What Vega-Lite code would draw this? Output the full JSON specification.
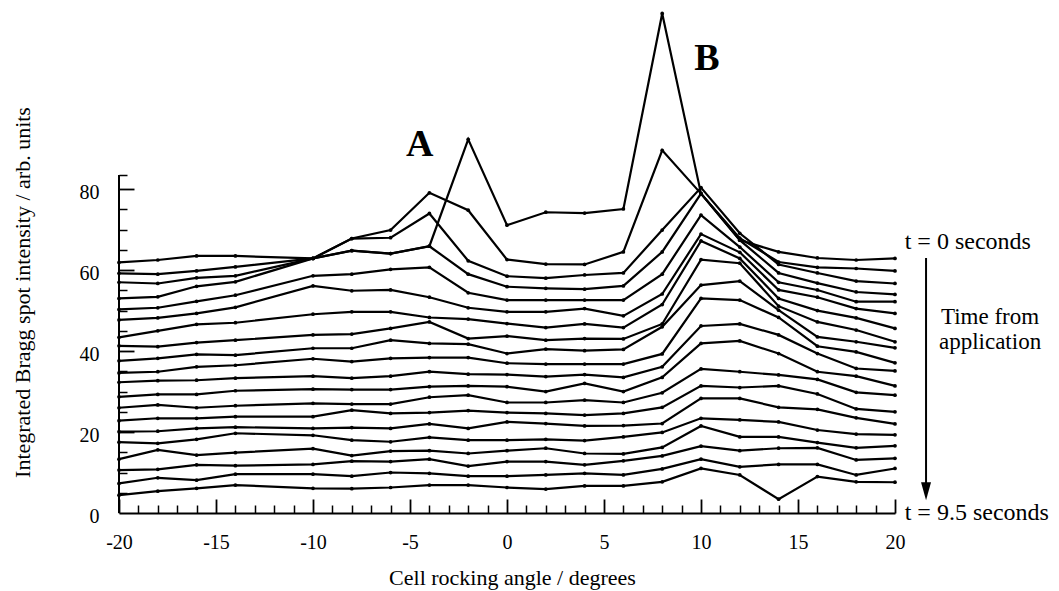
{
  "$schema": "https://vega.github.io/schema/vega-lite/v6.json",
  "width": 776,
  "height": 506,
  "autosize": {"type": "none"},
  "padding": {"left": 119, "top": 7, "right": 164, "bottom": 78},
  "background": "white",
  "config": {"view": {"stroke": null}, "font": "Liberation Serif", "axis": {"grid": false, "labelFont": "Liberation Serif", "titleFont": "Liberation Serif", "labelColor": "black", "titleColor": "black", "tickColor": "black", "domainColor": "black"}},
  "datasets": {
    "series": [
      {"t":0,"x":-20,"y":61.9},{"t":0,"x":-18,"y":62.5},{"t":0,"x":-16,"y":63.5},{"t":0,"x":-14,"y":63.5},{"t":0,"x":-10,"y":62.9},{"t":0,"x":-8,"y":64.8},{"t":0,"x":-6,"y":64.1},{"t":0,"x":-4,"y":65.9},{"t":0,"x":-2,"y":92.3},{"t":0,"x":0,"y":71.1},{"t":0,"x":2,"y":74.3},{"t":0,"x":4,"y":74.1},{"t":0,"x":6,"y":75.1},{"t":0,"x":8,"y":123.4},{"t":0,"x":10,"y":78.9},{"t":0,"x":12,"y":67.4},{"t":0,"x":14,"y":64.5},{"t":0,"x":16,"y":63.0},{"t":0,"x":18,"y":62.5},{"t":0,"x":20,"y":62.9},
      {"t":0.5,"x":-20,"y":59.2},{"t":0.5,"x":-18,"y":59.0},{"t":0.5,"x":-16,"y":59.8},{"t":0.5,"x":-14,"y":60.8},{"t":0.5,"x":-10,"y":62.9},{"t":0.5,"x":-8,"y":67.8},{"t":0.5,"x":-6,"y":69.9},{"t":0.5,"x":-4,"y":79.1},{"t":0.5,"x":-2,"y":74.8},{"t":0.5,"x":0,"y":62.6},{"t":0.5,"x":2,"y":61.5},{"t":0.5,"x":4,"y":61.4},{"t":0.5,"x":6,"y":64.5},{"t":0.5,"x":8,"y":89.6},{"t":0.5,"x":10,"y":78.9},{"t":0.5,"x":12,"y":67.9},{"t":0.5,"x":14,"y":62.0},{"t":0.5,"x":16,"y":60.7},{"t":0.5,"x":18,"y":60.4},{"t":0.5,"x":20,"y":59.8},
      {"t":1,"x":-20,"y":57.0},{"t":1,"x":-18,"y":56.7},{"t":1,"x":-16,"y":58.1},{"t":1,"x":-14,"y":58.6},{"t":1,"x":-10,"y":62.9},{"t":1,"x":-8,"y":67.8},{"t":1,"x":-6,"y":68.0},{"t":1,"x":-4,"y":74.0},{"t":1,"x":-2,"y":62.3},{"t":1,"x":0,"y":58.5},{"t":1,"x":2,"y":58.0},{"t":1,"x":4,"y":58.8},{"t":1,"x":6,"y":59.3},{"t":1,"x":8,"y":69.9},{"t":1,"x":10,"y":80.4},{"t":1,"x":12,"y":69.1},{"t":1,"x":14,"y":61.4},{"t":1,"x":16,"y":59.3},{"t":1,"x":18,"y":57.3},{"t":1,"x":20,"y":56.7},
      {"t":1.5,"x":-20,"y":53.0},{"t":1.5,"x":-18,"y":53.4},{"t":1.5,"x":-16,"y":56.0},{"t":1.5,"x":-14,"y":57.1},{"t":1.5,"x":-10,"y":62.9},{"t":1.5,"x":-8,"y":64.8},{"t":1.5,"x":-6,"y":64.1},{"t":1.5,"x":-4,"y":65.9},{"t":1.5,"x":-2,"y":59.0},{"t":1.5,"x":0,"y":55.9},{"t":1.5,"x":2,"y":55.5},{"t":1.5,"x":4,"y":55.3},{"t":1.5,"x":6,"y":56.1},{"t":1.5,"x":8,"y":64.5},{"t":1.5,"x":10,"y":78.9},{"t":1.5,"x":12,"y":67.4},{"t":1.5,"x":14,"y":59.3},{"t":1.5,"x":16,"y":56.8},{"t":1.5,"x":18,"y":54.6},{"t":1.5,"x":20,"y":54.0},
      {"t":2,"x":-20,"y":50.3},{"t":2,"x":-18,"y":50.7},{"t":2,"x":-16,"y":52.3},{"t":2,"x":-14,"y":53.8},{"t":2,"x":-10,"y":58.6},{"t":2,"x":-8,"y":59.0},{"t":2,"x":-6,"y":60.2},{"t":2,"x":-4,"y":60.7},{"t":2,"x":-2,"y":54.4},{"t":2,"x":0,"y":52.6},{"t":2,"x":2,"y":52.6},{"t":2,"x":4,"y":52.6},{"t":2,"x":6,"y":52.6},{"t":2,"x":8,"y":59.0},{"t":2,"x":10,"y":73.6},{"t":2,"x":12,"y":65.7},{"t":2,"x":14,"y":57.0},{"t":2,"x":16,"y":55.1},{"t":2,"x":18,"y":52.2},{"t":2,"x":20,"y":52.2},
      {"t":2.5,"x":-20,"y":47.7},{"t":2.5,"x":-18,"y":48.2},{"t":2.5,"x":-16,"y":49.3},{"t":2.5,"x":-14,"y":50.8},{"t":2.5,"x":-10,"y":56.1},{"t":2.5,"x":-8,"y":54.9},{"t":2.5,"x":-6,"y":55.1},{"t":2.5,"x":-4,"y":53.3},{"t":2.5,"x":-2,"y":50.7},{"t":2.5,"x":0,"y":49.7},{"t":2.5,"x":2,"y":49.7},{"t":2.5,"x":4,"y":50.5},{"t":2.5,"x":6,"y":48.7},{"t":2.5,"x":8,"y":54.1},{"t":2.5,"x":10,"y":68.9},{"t":2.5,"x":12,"y":64.4},{"t":2.5,"x":14,"y":55.1},{"t":2.5,"x":16,"y":53.3},{"t":2.5,"x":18,"y":50.5},{"t":2.5,"x":20,"y":49.3},
      {"t":3,"x":-20,"y":43.4},{"t":3,"x":-18,"y":45.0},{"t":3,"x":-16,"y":46.6},{"t":3,"x":-14,"y":47.0},{"t":3,"x":-10,"y":49.1},{"t":3,"x":-8,"y":49.7},{"t":3,"x":-6,"y":49.7},{"t":3,"x":-4,"y":48.3},{"t":3,"x":-2,"y":47.9},{"t":3,"x":0,"y":46.8},{"t":3,"x":2,"y":45.8},{"t":3,"x":4,"y":46.7},{"t":3,"x":6,"y":45.8},{"t":3,"x":8,"y":51.5},{"t":3,"x":10,"y":67.2},{"t":3,"x":12,"y":62.9},{"t":3,"x":14,"y":53.0},{"t":3,"x":16,"y":50.0},{"t":3,"x":18,"y":48.2},{"t":3,"x":20,"y":45.6},
      {"t":3.5,"x":-20,"y":41.3},{"t":3.5,"x":-18,"y":41.1},{"t":3.5,"x":-16,"y":42.1},{"t":3.5,"x":-14,"y":42.7},{"t":3.5,"x":-10,"y":44.0},{"t":3.5,"x":-8,"y":44.2},{"t":3.5,"x":-6,"y":45.6},{"t":3.5,"x":-4,"y":47.2},{"t":3.5,"x":-2,"y":43.1},{"t":3.5,"x":0,"y":43.7},{"t":3.5,"x":2,"y":42.7},{"t":3.5,"x":4,"y":43.1},{"t":3.5,"x":6,"y":43.0},{"t":3.5,"x":8,"y":46.7},{"t":3.5,"x":10,"y":62.6},{"t":3.5,"x":12,"y":61.7},{"t":3.5,"x":14,"y":51.1},{"t":3.5,"x":16,"y":47.2},{"t":3.5,"x":18,"y":45.2},{"t":3.5,"x":20,"y":42.3},
      {"t":4,"x":-20,"y":37.6},{"t":4,"x":-18,"y":38.2},{"t":4,"x":-16,"y":39.2},{"t":4,"x":-14,"y":39.0},{"t":4,"x":-10,"y":40.7},{"t":4,"x":-8,"y":40.7},{"t":4,"x":-6,"y":42.7},{"t":4,"x":-4,"y":41.9},{"t":4,"x":-2,"y":41.7},{"t":4,"x":0,"y":39.4},{"t":4,"x":2,"y":40.5},{"t":4,"x":4,"y":40.1},{"t":4,"x":6,"y":40.4},{"t":4,"x":8,"y":46.0},{"t":4,"x":10,"y":56.3},{"t":4,"x":12,"y":57.3},{"t":4,"x":14,"y":50.1},{"t":4,"x":16,"y":43.5},{"t":4,"x":18,"y":42.3},{"t":4,"x":20,"y":40.8},
      {"t":4.5,"x":-20,"y":34.6},{"t":4.5,"x":-18,"y":34.9},{"t":4.5,"x":-16,"y":36.1},{"t":4.5,"x":-14,"y":36.5},{"t":4.5,"x":-10,"y":38.1},{"t":4.5,"x":-8,"y":37.4},{"t":4.5,"x":-6,"y":38.2},{"t":4.5,"x":-4,"y":38.4},{"t":4.5,"x":-2,"y":38.4},{"t":4.5,"x":0,"y":37.0},{"t":4.5,"x":2,"y":36.8},{"t":4.5,"x":4,"y":36.8},{"t":4.5,"x":6,"y":36.8},{"t":4.5,"x":8,"y":39.3},{"t":4.5,"x":10,"y":53.0},{"t":4.5,"x":12,"y":52.6},{"t":4.5,"x":14,"y":48.3},{"t":4.5,"x":16,"y":41.2},{"t":4.5,"x":18,"y":39.8},{"t":4.5,"x":20,"y":37.1},
      {"t":5,"x":-20,"y":32.3},{"t":5,"x":-18,"y":32.7},{"t":5,"x":-16,"y":32.8},{"t":5,"x":-14,"y":33.3},{"t":5,"x":-10,"y":33.8},{"t":5,"x":-8,"y":33.3},{"t":5,"x":-6,"y":33.8},{"t":5,"x":-4,"y":34.9},{"t":5,"x":-2,"y":34.3},{"t":5,"x":0,"y":34.2},{"t":5,"x":2,"y":33.7},{"t":5,"x":4,"y":34.2},{"t":5,"x":6,"y":33.5},{"t":5,"x":8,"y":36.1},{"t":5,"x":10,"y":46.2},{"t":5,"x":12,"y":46.7},{"t":5,"x":14,"y":44.0},{"t":5,"x":16,"y":39.4},{"t":5,"x":18,"y":35.7},{"t":5,"x":20,"y":35.1},
      {"t":5.5,"x":-20,"y":28.7},{"t":5.5,"x":-18,"y":29.3},{"t":5.5,"x":-16,"y":29.3},{"t":5.5,"x":-14,"y":30.2},{"t":5.5,"x":-10,"y":30.6},{"t":5.5,"x":-8,"y":30.5},{"t":5.5,"x":-6,"y":30.5},{"t":5.5,"x":-4,"y":31.2},{"t":5.5,"x":-2,"y":31.4},{"t":5.5,"x":0,"y":31.2},{"t":5.5,"x":2,"y":30.0},{"t":5.5,"x":4,"y":32.0},{"t":5.5,"x":6,"y":30.0},{"t":5.5,"x":8,"y":33.5},{"t":5.5,"x":10,"y":41.9},{"t":5.5,"x":12,"y":42.5},{"t":5.5,"x":14,"y":39.4},{"t":5.5,"x":16,"y":34.9},{"t":5.5,"x":18,"y":33.8},{"t":5.5,"x":20,"y":31.4},
      {"t":6,"x":-20,"y":26.0},{"t":6,"x":-18,"y":26.7},{"t":6,"x":-16,"y":26.0},{"t":6,"x":-14,"y":26.5},{"t":6,"x":-10,"y":27.1},{"t":6,"x":-8,"y":26.9},{"t":6,"x":-6,"y":26.9},{"t":6,"x":-4,"y":28.6},{"t":6,"x":-2,"y":29.1},{"t":6,"x":0,"y":27.3},{"t":6,"x":2,"y":27.3},{"t":6,"x":4,"y":27.9},{"t":6,"x":6,"y":27.3},{"t":6,"x":8,"y":29.7},{"t":6,"x":10,"y":35.6},{"t":6,"x":12,"y":34.9},{"t":6,"x":14,"y":34.1},{"t":6,"x":16,"y":33.0},{"t":6,"x":18,"y":29.8},{"t":6,"x":20,"y":29.1},
      {"t":6.5,"x":-20,"y":22.8},{"t":6.5,"x":-18,"y":23.4},{"t":6.5,"x":-16,"y":23.4},{"t":6.5,"x":-14,"y":23.8},{"t":6.5,"x":-10,"y":23.8},{"t":6.5,"x":-8,"y":25.4},{"t":6.5,"x":-6,"y":24.6},{"t":6.5,"x":-4,"y":24.8},{"t":6.5,"x":-2,"y":25.3},{"t":6.5,"x":0,"y":24.8},{"t":6.5,"x":2,"y":24.6},{"t":6.5,"x":4,"y":24.2},{"t":6.5,"x":6,"y":24.6},{"t":6.5,"x":8,"y":26.1},{"t":6.5,"x":10,"y":31.4},{"t":6.5,"x":12,"y":31.0},{"t":6.5,"x":14,"y":31.4},{"t":6.5,"x":16,"y":29.4},{"t":6.5,"x":18,"y":25.7},{"t":6.5,"x":20,"y":25.0},
      {"t":7,"x":-20,"y":20.1},{"t":7,"x":-18,"y":20.2},{"t":7,"x":-16,"y":20.9},{"t":7,"x":-14,"y":21.2},{"t":7,"x":-10,"y":20.9},{"t":7,"x":-8,"y":21.1},{"t":7,"x":-6,"y":20.9},{"t":7,"x":-4,"y":22.0},{"t":7,"x":-2,"y":20.9},{"t":7,"x":0,"y":22.5},{"t":7,"x":2,"y":22.1},{"t":7,"x":4,"y":21.5},{"t":7,"x":6,"y":21.6},{"t":7,"x":8,"y":22.1},{"t":7,"x":10,"y":28.3},{"t":7,"x":12,"y":28.3},{"t":7,"x":14,"y":26.1},{"t":7,"x":16,"y":25.6},{"t":7,"x":18,"y":23.5},{"t":7,"x":20,"y":22.0},
      {"t":7.5,"x":-20,"y":17.5},{"t":7.5,"x":-18,"y":17.2},{"t":7.5,"x":-16,"y":18.2},{"t":7.5,"x":-14,"y":19.7},{"t":7.5,"x":-10,"y":19.2},{"t":7.5,"x":-8,"y":18.0},{"t":7.5,"x":-6,"y":17.6},{"t":7.5,"x":-4,"y":18.7},{"t":7.5,"x":-2,"y":18.0},{"t":7.5,"x":0,"y":18.0},{"t":7.5,"x":2,"y":18.2},{"t":7.5,"x":4,"y":17.9},{"t":7.5,"x":6,"y":18.8},{"t":7.5,"x":8,"y":19.9},{"t":7.5,"x":10,"y":23.4},{"t":7.5,"x":12,"y":23.0},{"t":7.5,"x":14,"y":22.5},{"t":7.5,"x":16,"y":20.5},{"t":7.5,"x":18,"y":19.5},{"t":7.5,"x":20,"y":19.3},
      {"t":8,"x":-20,"y":13.3},{"t":8,"x":-18,"y":15.6},{"t":8,"x":-16,"y":14.3},{"t":8,"x":-14,"y":14.9},{"t":8,"x":-10,"y":15.9},{"t":8,"x":-8,"y":14.2},{"t":8,"x":-6,"y":15.3},{"t":8,"x":-4,"y":15.4},{"t":8,"x":-2,"y":14.7},{"t":8,"x":0,"y":15.4},{"t":8,"x":2,"y":16.0},{"t":8,"x":4,"y":14.7},{"t":8,"x":6,"y":14.6},{"t":8,"x":8,"y":16.2},{"t":8,"x":10,"y":21.5},{"t":8,"x":12,"y":18.8},{"t":8,"x":14,"y":18.8},{"t":8,"x":16,"y":17.4},{"t":8,"x":18,"y":16.1},{"t":8,"x":20,"y":16.6},
      {"t":8.5,"x":-20,"y":10.6},{"t":8.5,"x":-18,"y":10.8},{"t":8.5,"x":-16,"y":11.9},{"t":8.5,"x":-14,"y":11.7},{"t":8.5,"x":-10,"y":12.0},{"t":8.5,"x":-8,"y":12.8},{"t":8.5,"x":-6,"y":12.7},{"t":8.5,"x":-4,"y":13.3},{"t":8.5,"x":-2,"y":11.6},{"t":8.5,"x":0,"y":12.7},{"t":8.5,"x":2,"y":12.7},{"t":8.5,"x":4,"y":11.9},{"t":8.5,"x":6,"y":12.9},{"t":8.5,"x":8,"y":14.1},{"t":8.5,"x":10,"y":16.5},{"t":8.5,"x":12,"y":15.4},{"t":8.5,"x":14,"y":16.0},{"t":8.5,"x":16,"y":16.1},{"t":8.5,"x":18,"y":13.1},{"t":8.5,"x":20,"y":13.5},
      {"t":9,"x":-20,"y":7.3},{"t":9,"x":-18,"y":8.7},{"t":9,"x":-16,"y":8.1},{"t":9,"x":-14,"y":9.6},{"t":9,"x":-10,"y":9.6},{"t":9,"x":-8,"y":9.1},{"t":9,"x":-6,"y":10.0},{"t":9,"x":-4,"y":9.8},{"t":9,"x":-2,"y":9.1},{"t":9,"x":0,"y":9.1},{"t":9,"x":2,"y":9.4},{"t":9,"x":4,"y":9.8},{"t":9,"x":6,"y":9.4},{"t":9,"x":8,"y":10.9},{"t":9,"x":10,"y":13.3},{"t":9,"x":12,"y":11.4},{"t":9,"x":14,"y":12.0},{"t":9,"x":16,"y":12.0},{"t":9,"x":18,"y":9.4},{"t":9,"x":20,"y":11.0},
      {"t":9.5,"x":-20,"y":4.4},{"t":9.5,"x":-18,"y":5.4},{"t":9.5,"x":-16,"y":6.1},{"t":9.5,"x":-14,"y":6.9},{"t":9.5,"x":-10,"y":6.1},{"t":9.5,"x":-8,"y":6.0},{"t":9.5,"x":-6,"y":6.3},{"t":9.5,"x":-4,"y":6.9},{"t":9.5,"x":-2,"y":6.9},{"t":9.5,"x":0,"y":6.3},{"t":9.5,"x":2,"y":5.9},{"t":9.5,"x":4,"y":6.7},{"t":9.5,"x":6,"y":6.7},{"t":9.5,"x":8,"y":7.7},{"t":9.5,"x":10,"y":11.0},{"t":9.5,"x":12,"y":9.4},{"t":9.5,"x":14,"y":3.4},{"t":9.5,"x":16,"y":9.0},{"t":9.5,"x":18,"y":7.7},{"t":9.5,"x":20,"y":7.6}
    ],
    "axisline": [{"x": -20, "y": 0, "y2": 83.5}],
    "peaks": [{"label": "A", "x": -4.5, "y": 90.9}, {"label": "B", "x": 10.3, "y": 112.1}],
    "side": [{"label": "t = 0 seconds", "x": 20.5, "y": 66.9}, {"label": "t = 9.5 seconds", "x": 20.5, "y": 0}],
    "sidec": [{"label": "Time from", "x": 24.9, "y": 48.4}, {"label": "application", "x": 24.9, "y": 42.2}],
    "arrow": [{"x": 21.6, "y": 63, "y2": 6}],
    "head": [{"x": 21.6, "y": 5.4}]
  },
  "layer": [
    {
      "data": {"name": "series"},
      "mark": {"type": "line", "color": "black", "strokeWidth": 2.2},
      "encoding": {
        "x": {"field": "x", "type": "quantitative", "scale": {"domain": [-20, 20], "nice": false, "zero": false},
          "axis": {"orient": "bottom", "values": [-20, -15, -10, -5, 0, 5, 10, 15, 20], "ticks": false, "domain": true, "domainWidth": 2, "labelExpr": "'' + datum.value", "labelFontSize": 20, "labelPadding": 19, "labelFlush": false, "labelOverlap": false, "title": "Cell rocking angle / degrees", "titleFontSize": 22, "titleFontWeight": "normal", "titleX": 393, "titleY": 64, "titleBaseline": "middle", "titleAlign": "center"}},
        "y": {"field": "y", "type": "quantitative", "scale": {"domain": [0, 125], "nice": false},
          "axis": {"orient": "left", "values": [0, 20, 40, 60, 80], "ticks": false, "domain": false, "labelFontSize": 20, "labelPadding": 20, "labelOffset": 3, "labelOverlap": false, "title": "Integrated Bragg spot intensity / arb. units", "titleFontSize": 22, "titleFontWeight": "normal", "titleX": -97, "titleY": 285, "titleAngle": -90, "titleBaseline": "middle", "titleAlign": "center"}},
        "detail": {"field": "t", "type": "nominal"}
      }
    },
    {
      "data": {"name": "series"},
      "mark": {"type": "circle", "color": "black", "size": 14, "opacity": 1},
      "encoding": {
        "x": {"field": "x", "type": "quantitative", "scale": {"domain": [-20, 20], "nice": false, "zero": false},
          "axis": {"orient": "bottom", "values": [-20, -15, -10, -5, 0, 5, 10, 15, 20], "labels": false, "domain": false, "tickSize": -14, "tickWidth": 1.8, "title": null}},
        "y": {"field": "y", "type": "quantitative", "scale": {"domain": [0, 125], "nice": false},
          "axis": {"orient": "left", "values": [20, 40, 60, 80], "labels": false, "domain": false, "tickSize": -15, "tickWidth": 1.8, "title": null}}
      }
    },
    {
      "data": {"name": "axisline"},
      "mark": {"type": "rule", "color": "black", "strokeWidth": 2},
      "encoding": {
        "x": {"field": "x", "type": "quantitative", "scale": {"domain": [-20, 20], "nice": false, "zero": false},
          "axis": {"orient": "bottom", "values": [-19, -18, -17, -16, -14, -13, -12, -11, -9, -8, -7, -6, -4, -3, -2, -1, 1, 2, 3, 4, 6, 7, 8, 9, 11, 12, 13, 14, 16, 17, 18, 19], "labels": false, "domain": false, "tickSize": -8, "tickWidth": 1.5, "title": null}},
        "y": {"field": "y", "type": "quantitative", "scale": {"domain": [0, 125], "nice": false},
          "axis": {"orient": "left", "values": [5, 10, 15, 25, 30, 35, 45, 50, 55, 65, 70, 75, 83.5], "labels": false, "domain": false, "tickSize": -8, "tickWidth": 1.5, "title": null}},
        "y2": {"field": "y2"}
      }
    },
    {
      "data": {"name": "peaks"},
      "mark": {"type": "text", "font": "Liberation Serif", "fontSize": 38, "fontWeight": "bold", "align": "center", "baseline": "middle", "color": "black"},
      "encoding": {
        "x": {"field": "x", "type": "quantitative", "axis": null},
        "y": {"field": "y", "type": "quantitative", "axis": null},
        "text": {"field": "label"}
      }
    },
    {
      "data": {"name": "side"},
      "mark": {"type": "text", "font": "Liberation Serif", "fontSize": 24, "align": "left", "baseline": "middle", "color": "black"},
      "encoding": {
        "x": {"field": "x", "type": "quantitative", "axis": null},
        "y": {"field": "y", "type": "quantitative", "axis": null},
        "text": {"field": "label"}
      }
    },
    {
      "data": {"name": "sidec"},
      "mark": {"type": "text", "font": "Liberation Serif", "fontSize": 23, "align": "center", "baseline": "middle", "color": "black"},
      "encoding": {
        "x": {"field": "x", "type": "quantitative", "axis": null},
        "y": {"field": "y", "type": "quantitative", "axis": null},
        "text": {"field": "label"}
      }
    },
    {
      "data": {"name": "arrow"},
      "mark": {"type": "rule", "color": "black", "strokeWidth": 2},
      "encoding": {
        "x": {"field": "x", "type": "quantitative", "axis": null},
        "y": {"field": "y", "type": "quantitative", "axis": null},
        "y2": {"field": "y2"}
      }
    },
    {
      "data": {"name": "head"},
      "mark": {"type": "point", "shape": "M-1,-1.8L1,-1.8L0,1.8Z", "size": 100, "filled": true, "color": "black", "opacity": 1},
      "encoding": {
        "x": {"field": "x", "type": "quantitative", "axis": null},
        "y": {"field": "y", "type": "quantitative", "axis": null}
      }
    }
  ],
  "resolve": {"axis": {"x": "independent", "y": "independent"}}
}
